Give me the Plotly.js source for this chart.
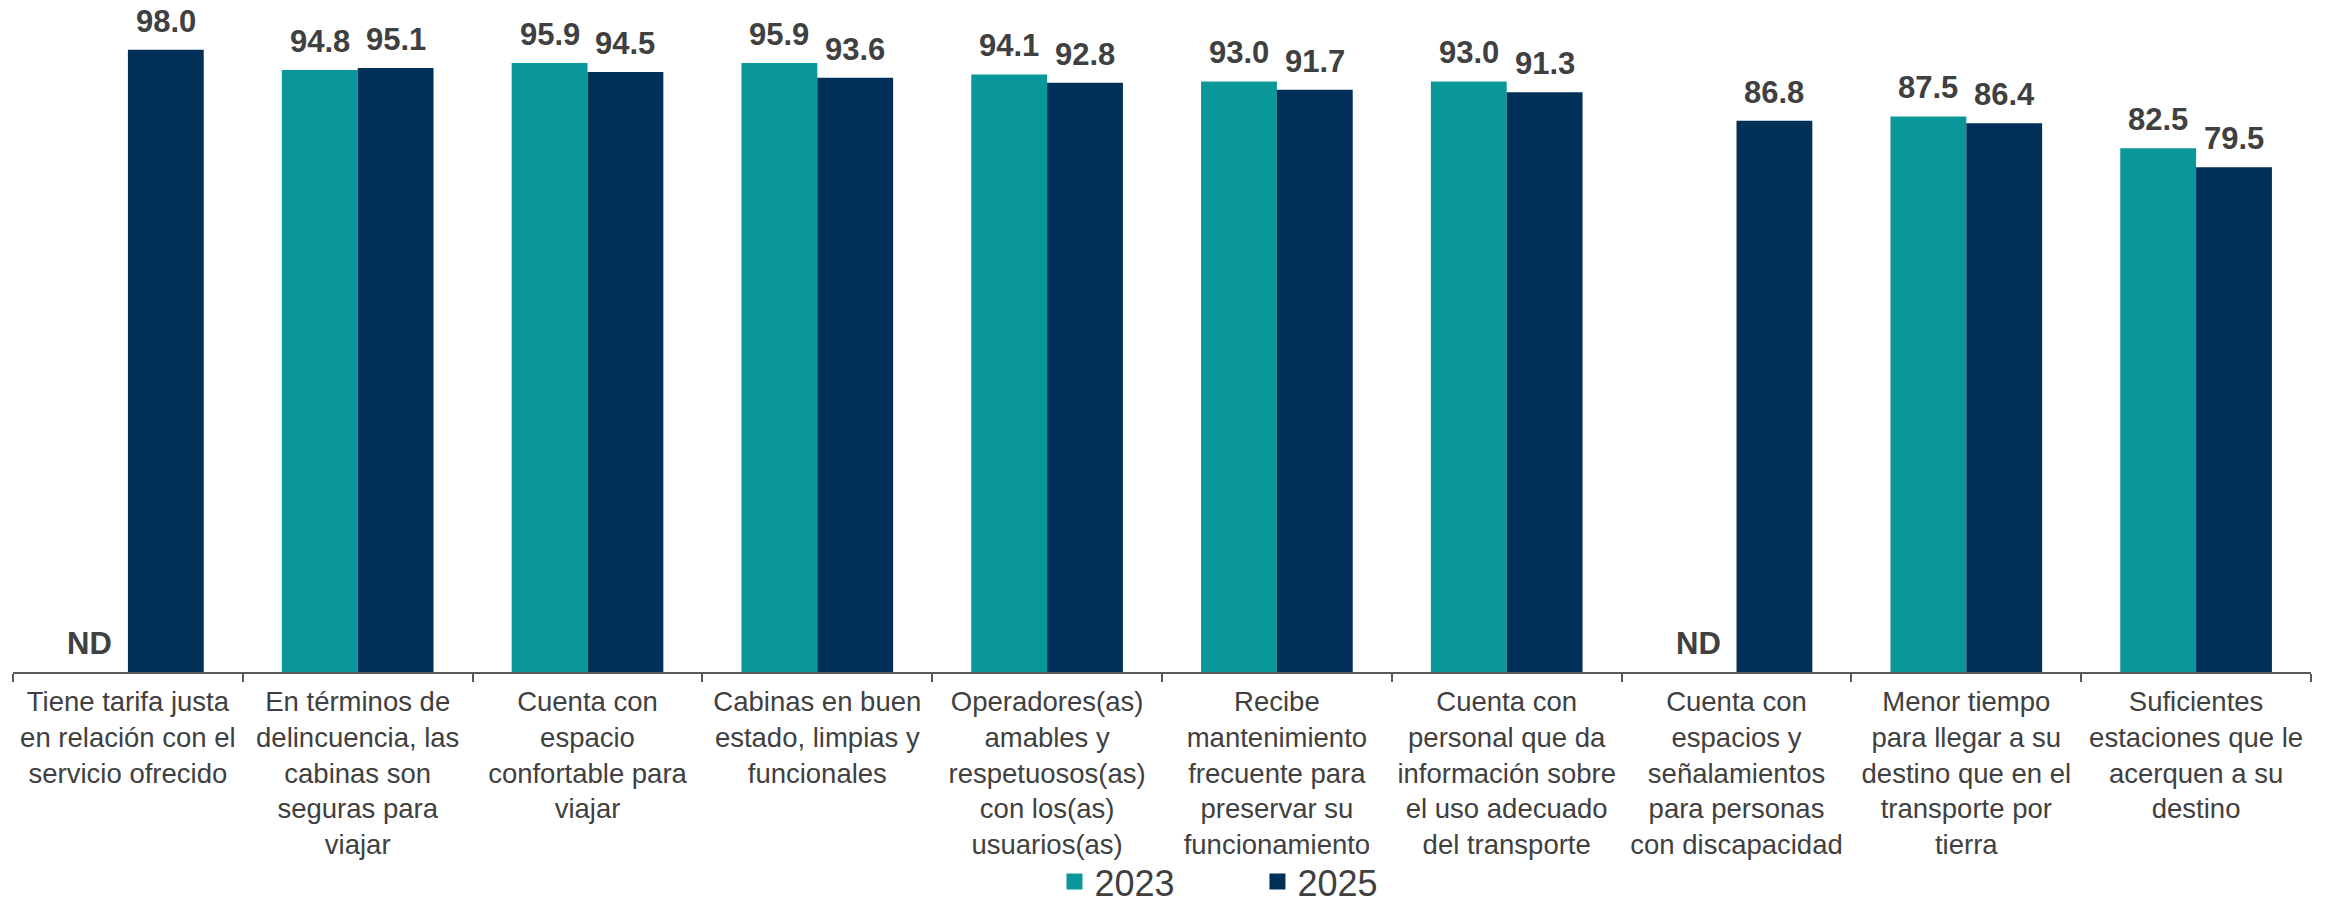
<!DOCTYPE html>
<html>
<head>
<meta charset="utf-8">
<script src="https://cdn.plot.ly/plotly-3.0.1.min.js"></script>
<style>html,body{margin:0;padding:0;background:#fff;}#chart{width:2331px;height:907px;}</style>
</head>
<body>
<div id="chart"></div>
<script>
const categories = [
  "Tiene tarifa justa<br>en relación con el<br>servicio ofrecido",
  "En términos de<br>delincuencia, las<br>cabinas son<br>seguras para<br>viajar",
  "Cuenta con<br>espacio<br>confortable para<br>viajar",
  "Cabinas en buen<br>estado, limpias y<br>funcionales",
  "Operadores(as)<br>amables y<br>respetuosos(as)<br>con los(as)<br>usuarios(as)",
  "Recibe<br>mantenimiento<br>frecuente para<br>preservar su<br>funcionamiento",
  "Cuenta con<br>personal que da<br>información sobre<br>el uso adecuado<br>del transporte",
  "Cuenta con<br>espacios y<br>señalamientos<br>para personas<br>con discapacidad",
  "Menor tiempo<br>para llegar a su<br>destino que en el<br>transporte por<br>tierra",
  "Suficientes<br>estaciones que le<br>acerquen a su<br>destino"
];
const values2023 = [null, 94.8, 95.9, 95.9, 94.1, 93.0, 93.0, null, 87.5, 82.5];
const values2025 = [98.0, 95.1, 94.5, 93.6, 92.8, 91.7, 91.3, 86.8, 86.4, 79.5];
const seriesNames = ["2023", "2025"];
const missingLabel = "ND";

const colors = ["#09979A", "#003057"];
const textColor = "#404040";
const font = "Liberation Sans, Arial, sans-serif";
const bargap = 0.34;
const off = (1 - bargap) / 4;

const traces = [values2023, values2025].map((vals, i) => ({
  type: "bar",
  name: seriesNames[i],
  x: categories,
  y: vals,
  marker: {color: colors[i], line: {width: 0}},
  showlegend: false,
  legendgroup: seriesNames[i],
  hoverinfo: "skip"
}));
// legend entries (square swatches) for the two series
seriesNames.forEach((n, i) => {
  traces.push({
    type: "scatter",
    mode: "markers",
    name: n,
    legendgroup: n,
    x: [null], y: [null],
    marker: {symbol: "square", size: 19, color: colors[i]},
    showlegend: true,
    hoverinfo: "skip"
  });
});

const annotations = [];
[values2023, values2025].forEach((vals, s) => {
  vals.forEach((v, i) => {
    annotations.push({
      x: i + (s === 0 ? -off : off),
      y: v === null ? 0 : v,
      xref: "x", yref: "y",
      text: v === null ? missingLabel : v.toFixed(1),
      showarrow: false,
      yanchor: "bottom",
      xanchor: "center",
      yshift: 9,
      font: {family: font, size: 31, color: textColor, weight: "bold"}
    });
  });
});

const layout = {
  width: 2331, height: 907,
  margin: {l: 13, r: 20, t: 37, b: 235},
  paper_bgcolor: "#ffffff",
  plot_bgcolor: "#ffffff",
  barmode: "group",
  bargap: bargap,
  bargroupgap: 0,
  showlegend: true,
  legend: {
    orientation: "h",
    xref: "paper", yref: "container",
    x: 0.4532, xanchor: "left",
    y: 0.028, yanchor: "middle",
    entrywidth: 158,
    entrywidthmode: "pixels",
    itemsizing: "trace",
    bgcolor: "rgba(0,0,0,0)",
    font: {family: font, size: 36, color: textColor},
    itemclick: false
  },
  xaxis: {
    type: "category",
    showline: true,
    linecolor: "#595959",
    linewidth: 2,
    ticks: "outside",
    tickson: "boundaries",
    ticklen: 8,
    tickwidth: 2,
    tickcolor: "#595959",
    tickangle: 0,
    ticklabelstandoff: 4,
    showgrid: false,
    tickfont: {family: font, size: 27.5, color: textColor},
    automargin: false
  },
  yaxis: {
    range: [0, 100],
    visible: false,
    showgrid: false,
    zeroline: false,
    fixedrange: true
  },
  annotations: annotations
};

Plotly.newPlot("chart", traces, layout, {displayModeBar: false, staticPlot: true});
</script>
</body>
</html>
